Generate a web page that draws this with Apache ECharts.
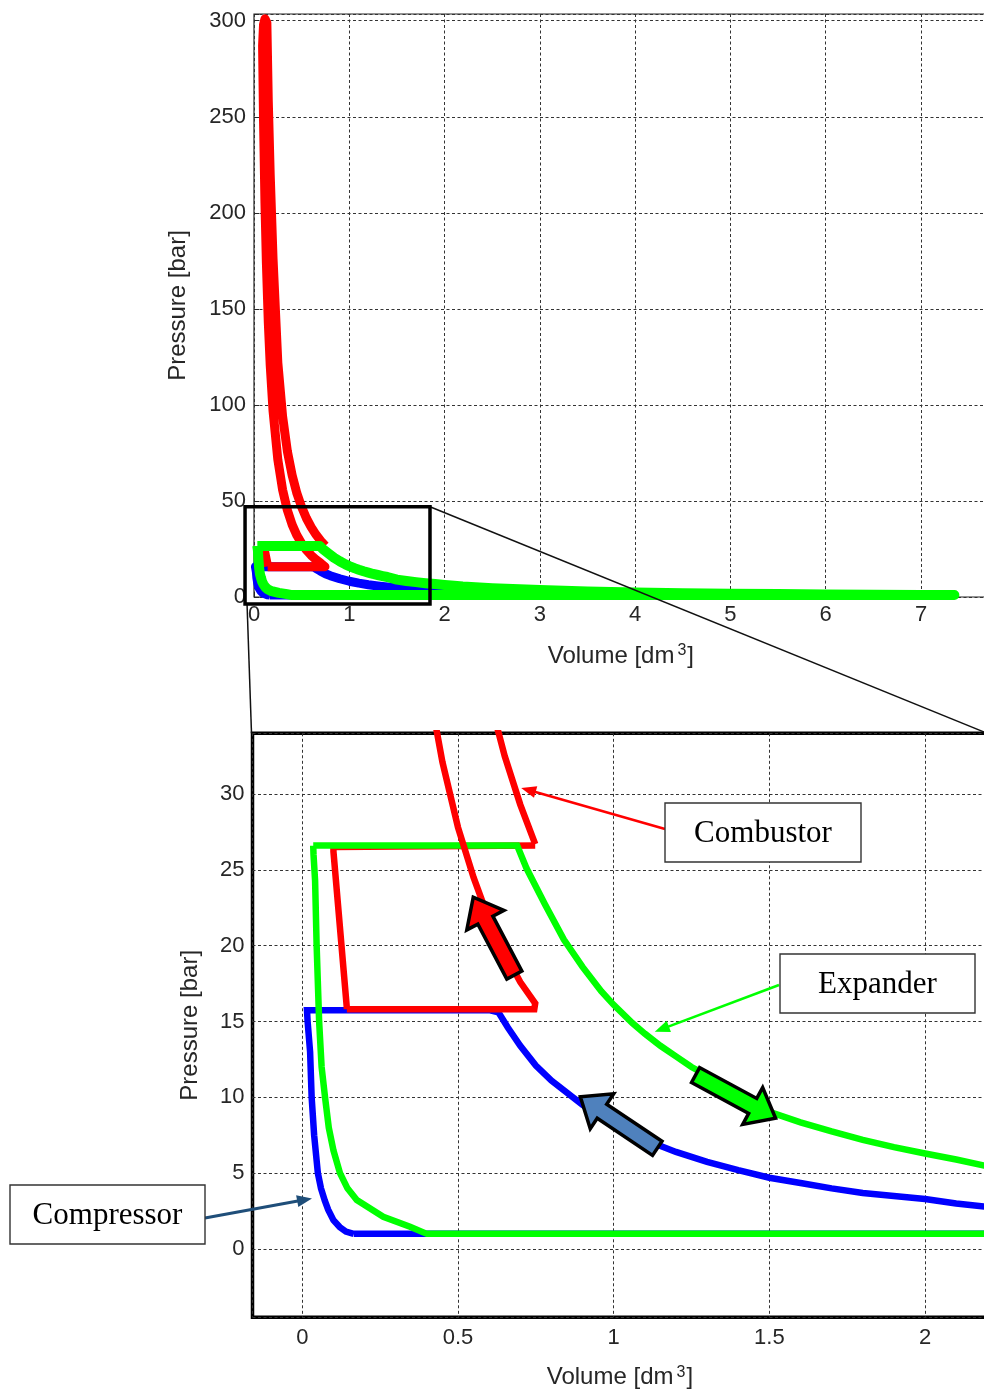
<!DOCTYPE html>
<html>
<head>
<meta charset="utf-8">
<title>p-V diagram</title>
<script src="https://cdn.jsdelivr.net/npm/echarts@6/dist/echarts.min.js"></script>
<style>
  html, body { margin: 0; padding: 0; background: #fff; }
  #chart { width: 984px; height: 1395px; }
</style>
</head>
<body>
<div id="chart"></div>
<script>
// ---- Cycle data: volume [dm3] and pressure [bar] ----

// Compressor: intake at 1 bar, compression, discharge at ~15.75 bar, re-expansion
const compressorV = [0.165, 2.25, 2.25, 2.19, 2.1, 2.0, 1.9, 1.8, 1.7, 1.6, 1.5, 1.4, 1.3, 1.2, 1.1, 1.0, 0.9, 0.8, 0.75, 0.7, 0.66, 0.63, 0.6,
                     0.015, 0.017, 0.025, 0.03, 0.038, 0.05, 0.06, 0.072, 0.083, 0.1, 0.12, 0.14, 0.165];
const compressorP = [1.0, 1.0, 2.7, 2.8, 3.0, 3.3, 3.5, 3.7, 4.0, 4.35, 4.7, 5.2, 5.75, 6.4, 7.2, 8.2, 9.5, 11.1, 12.1, 13.4, 14.6, 15.6, 15.75,
                     15.75, 15.0, 13.0, 10.0, 7.5, 5.0, 4.0, 3.2, 2.6, 1.9, 1.45, 1.15, 1.0];

// Combustor, high-pressure part: intake, compression, combustion, expansion
const combustorHighV = [0.143, 0.745, 0.748, 0.7, 0.65, 0.6, 0.55, 0.5, 0.45, 0.4, 0.35, 0.3, 0.25, 0.2, 0.17, 0.15, 0.13, 0.115, 0.1, 0.09,
                        0.1, 0.115, 0.135, 0.15, 0.17, 0.2, 0.25, 0.3, 0.35, 0.4, 0.45, 0.5, 0.55, 0.6, 0.65, 0.7, 0.748];
const combustorHighP = [15.8, 15.8, 16.2, 17.6, 19.5, 21.7, 24.5, 27.8, 32.1, 37.7, 45.2, 55.8, 71.5, 96.8, 120.8, 143, 174, 205, 248, 287,
                        298, 301, 299, 258, 220, 176, 122, 94, 76, 63.5, 54, 46.8, 41, 36.4, 32.5, 29.3, 26.7];

// Combustor, low-pressure part: exhaust and re-expansion
const combustorLowV = [0.748, 0.1, 0.1, 0.143, 0.143];
const combustorLowP = [26.6, 26.5, 26.2, 15.9, 15.8];

// Expander: intake at ~26.6 bar, expansion, exhaust at 1 bar, recompression
const expanderV = [0.035, 0.69, 0.72, 0.78, 0.84, 0.9, 0.96, 1.0, 1.06, 1.1, 1.15, 1.2, 1.25, 1.3, 1.35, 1.4, 1.5, 1.6, 1.7, 1.8, 1.9, 2.0, 2.1, 2.19,
                   2.5, 3.0, 3.5, 4.0, 4.5, 5.0, 5.5, 6.0, 6.5, 7.0, 7.35,
                   0.40, 0.346, 0.26, 0.175, 0.145, 0.121, 0.1, 0.085, 0.073, 0.062, 0.054, 0.046, 0.041, 0.036, 0.035];
const expanderP = [26.6, 26.6, 25.1, 22.7, 20.4, 18.6, 17.0, 16.1, 14.9, 14.2, 13.4, 12.7, 12.0, 11.45, 10.9, 10.4, 9.05, 8.35, 7.75, 7.2, 6.72, 6.3, 5.9, 5.5,
                   4.6, 3.6, 2.9, 2.4, 2.0, 1.75, 1.5, 1.35, 1.2, 1.08, 1.0,
                   1.0, 1.47, 2.13, 3.23, 4.0, 5.0, 6.5, 8.0, 10.0, 12.0, 15.0, 20.0, 24.3, 26.0, 26.6];

// Axis ranges and tick steps
const overviewX = { min: 0, max: 7.7, step: 1 };
const overviewY = { min: 0, max: 303.5, step: 50 };
const detailX = { min: -0.16, max: 2.2, step: 0.5 };
const detailY = { min: -4.5, max: 34, step: 5 };

// Zoom window marked on the overview plot (volume, pressure)
const zoomWindowV = [-0.094, 1.847];
const zoomWindowP = [-3.65, 47.0];

// ---- Drawing ----
const FONT = "'Liberation Sans', Arial, Helvetica, sans-serif";
const SERIF = "'Liberation Serif', 'Times New Roman', serif";
const INK = '#262626';
const RED = '#ff0000', GREEN = '#00ff00', BLUE = '#0000ff';

const pairs = (vs, ps) => vs.map((v, i) => [v, ps[i]]);
const onStep = step => v => {
  const k = v / step;
  return Math.abs(k - Math.round(k)) < 1e-6 ? String(Math.round(k * step * 100) / 100) : '';
};
const splitLine = { show: true, lineStyle: { color: '#333', width: 1, type: [3, 2.5] } };

function cycle(name, vs, ps, color, width, grid, join) {
  return {
    name, type: 'line', xAxisIndex: grid, yAxisIndex: grid,
    data: pairs(vs, ps), showSymbol: false, symbol: 'none', smooth: false,
    lineStyle: { color, width, join, cap: 'butt' },
    emphasis: { disabled: true }, silent: true, clip: true
  };
}

const volumeName = 'Volume [dm{s|3}]';
const volumeStyle = {
  color: INK, fontSize: 24,
  rich: { s: { fontSize: 16, color: INK, verticalAlign: 'bottom', padding: [0, 1, 11, 3] } }
};

const chart = echarts.init(document.getElementById('chart'), null, { renderer: 'canvas' });

chart.setOption({
  animation: false,
  backgroundColor: '#ffffff',
  textStyle: { fontFamily: FONT },
  grid: [
    { left: 254, top: 14, width: 733.7, height: 583, outerBoundsMode: 'none', containLabel: false,
      show: true, borderColor: INK, borderWidth: 1.2, backgroundColor: 'transparent' },
    { left: 252.5, top: 733.3, width: 734.8, height: 584, outerBoundsMode: 'none', containLabel: false,
      show: true, borderColor: '#000', borderWidth: 3.5, backgroundColor: 'transparent' }
  ],
  xAxis: [
    {
      gridIndex: 0, type: 'value', min: overviewX.min, max: overviewX.max, interval: overviewX.step,
      axisLine: { show: false }, axisTick: { show: true, inside: true, length: 5, lineStyle: { color: INK } },
      axisLabel: { color: INK, fontSize: 22, margin: 7, formatter: onStep(overviewX.step) },
      splitLine,
      name: volumeName, nameLocation: 'middle', nameGap: 46, nameTextStyle: volumeStyle
    },
    {
      gridIndex: 1, type: 'value', min: detailX.min, max: detailX.max, minInterval: detailX.step, maxInterval: detailX.step,
      axisLine: { show: false }, axisTick: { show: false },
      axisLabel: { color: INK, fontSize: 22, margin: 10, formatter: onStep(detailX.step) },
      splitLine,
      name: volumeName, nameLocation: 'middle', nameGap: 47, nameTextStyle: volumeStyle
    }
  ],
  yAxis: [
    {
      gridIndex: 0, type: 'value', min: overviewY.min, max: overviewY.max, interval: overviewY.step,
      axisLine: { show: false }, axisTick: { show: true, inside: true, length: 5, lineStyle: { color: INK } },
      axisLabel: { color: INK, fontSize: 22, margin: 8, formatter: onStep(overviewY.step) },
      splitLine,
      name: 'Pressure [bar]', nameLocation: 'middle', nameGap: 64,
      nameTextStyle: { color: INK, fontSize: 24 }
    },
    {
      gridIndex: 1, type: 'value', min: detailY.min, max: detailY.max, minInterval: detailY.step, maxInterval: detailY.step,
      axisLine: { show: false }, axisTick: { show: false },
      axisLabel: { color: INK, fontSize: 22, margin: 8, formatter: onStep(detailY.step) },
      splitLine,
      name: 'Pressure [bar]', nameLocation: 'middle', nameGap: 50,
      nameTextStyle: { color: INK, fontSize: 24 }
    }
  ],
  series: [
    // overview
    cycle('Compressor', compressorV, compressorP, BLUE, 9, 0, 'round'),
    cycle('Combustor exhaust', combustorLowV, combustorLowP, RED, 9, 0, 'round'),
    cycle('Combustor', combustorHighV, combustorHighP, RED, 9, 0, 'round'),
    cycle('Expander', expanderV, expanderP, GREEN, 10, 0, 'round'),
    // detail
    cycle('Compressor', compressorV, compressorP, BLUE, 6.5, 1, 'miter'),
    cycle('Combustor exhaust', combustorLowV, combustorLowP, RED, 6.5, 1, 'miter'),
    cycle('Expander', expanderV, expanderP, GREEN, 6.5, 1, 'miter'),
    cycle('Combustor', combustorHighV, combustorHighP, RED, 6.5, 1, 'miter')
  ]
});

// ---- Annotations ----
const toTop = p => chart.convertToPixel({ gridIndex: 0 }, p);
const toBot = p => chart.convertToPixel({ gridIndex: 1 }, p);

function blockArrow(tail, tip, fill) {
  const [x1, y1] = tail, [x2, y2] = tip;
  const len = Math.hypot(x2 - x1, y2 - y1);
  const ux = (x2 - x1) / len, uy = (y2 - y1) / len;
  const nx = -uy, ny = ux;
  const w = 8.5, hw = 21, hl = 26;
  const bx = x2 - ux * hl, by = y2 - uy * hl;
  const pts = [
    [x1 + nx * w, y1 + ny * w], [bx + nx * w, by + ny * w], [bx + nx * hw, by + ny * hw],
    [x2, y2],
    [bx - nx * hw, by - ny * hw], [bx - nx * w, by - ny * w], [x1 - nx * w, y1 - ny * w]
  ];
  return { type: 'polygon', z: 100, shape: { points: pts },
           style: { fill, stroke: '#000', lineWidth: 3.5, lineJoin: 'miter' } };
}

function thinArrow(from, tip, color, width) {
  const [x1, y1] = from, [x2, y2] = tip;
  const len = Math.hypot(x2 - x1, y2 - y1);
  const ux = (x2 - x1) / len, uy = (y2 - y1) / len;
  const nx = -uy, ny = ux;
  const hl = 15, hw = 6;
  const bx = x2 - ux * hl, by = y2 - uy * hl;
  return [
    { type: 'line', z: 100, shape: { x1, y1, x2: bx + ux * 2, y2: by + uy * 2 }, style: { stroke: color, lineWidth: width } },
    { type: 'polygon', z: 100, shape: { points: [[x2, y2], [bx + nx * hw, by + ny * hw], [bx - nx * hw, by - ny * hw]] },
      style: { fill: color } }
  ];
}

function labelBox(x, y, w, h, text) {
  return [
    { type: 'rect', z: 100, shape: { x, y, width: w, height: h },
      style: { fill: '#fff', stroke: '#333', lineWidth: 1.4 } },
    { type: 'text', z: 101, x: x + w / 2, y: y + h / 2 + 1,
      style: { text, fontFamily: SERIF, fontSize: 31, fill: '#000', align: 'center', verticalAlign: 'middle' } }
  ];
}

const zA = toTop([zoomWindowV[0], zoomWindowP[1]]);
const zB = toTop([zoomWindowV[1], zoomWindowP[0]]);
const dTL = toBot([detailX.min, detailY.max]);
const dTR = toBot([detailX.max, detailY.max]);

const elements = [
  { type: 'line', z: 99, shape: { x1: zA[0] + 2, y1: zB[1], x2: dTL[0] - 1, y2: dTL[1] }, style: { stroke: '#111', lineWidth: 1.5 } },
  { type: 'line', z: 99, shape: { x1: zB[0], y1: zA[1], x2: dTR[0], y2: dTR[1] }, style: { stroke: '#111', lineWidth: 1.5 } },
  { type: 'rect', z: 100, shape: { x: zA[0], y: zA[1], width: zB[0] - zA[0], height: zB[1] - zA[1] },
    style: { fill: 'transparent', stroke: '#000', lineWidth: 3.5 } },

  blockArrow(toBot([0.681, 18.06]), toBot([0.549, 23.2]), RED),
  blockArrow(toBot([1.14, 6.64]), toBot([0.893, 10.04]), '#4f81bd'),
  blockArrow(toBot([1.263, 11.47]), toBot([1.52, 8.62]), GREEN),

  ...thinArrow([665, 829], toBot([0.703, 30.4]), RED, 2.6),
  ...thinArrow([779, 985], toBot([1.132, 14.33]), GREEN, 2.6),
  ...thinArrow([205, 1218], toBot([0.031, 3.34]), '#1f4e79', 3),

  ...labelBox(665, 803, 196, 59, 'Combustor'),
  ...labelBox(780, 954, 195, 59, 'Expander'),
  ...labelBox(10, 1185, 195, 59, 'Compressor')
];

chart.setOption({ graphic: { elements } });
</script>
</body>
</html>
